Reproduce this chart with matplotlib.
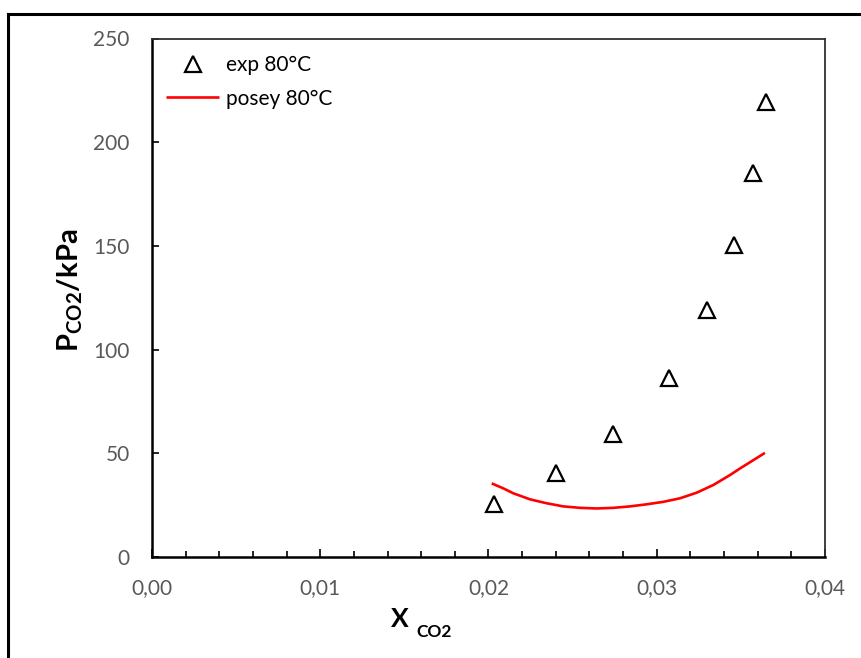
import matplotlib
matplotlib.use("Agg")
import matplotlib.pyplot as plt
from matplotlib.ticker import MultipleLocator, FuncFormatter
from matplotlib.lines import Line2D

plt.rcParams['font.family'] = ['Lato', 'DejaVu Sans']
plt.rcParams['mathtext.fontset'] = 'custom'
plt.rcParams['mathtext.rm'] = 'Lato'
plt.rcParams['mathtext.bf'] = 'Lato:bold'

# Experimental CO2 solubility at 80 °C
exp_x = [0.0203, 0.0240, 0.0274, 0.0307, 0.0330, 0.0346, 0.0357, 0.0365]
exp_p = [25.5, 40.6, 59.2, 86.2, 119.3, 150.3, 185.3, 219.3]

# Posey model prediction at 80 °C
posey_x = [0.02019, 0.02088, 0.02148, 0.02247, 0.02346, 0.02445, 0.02544, 0.02643,
           0.02742, 0.02841, 0.02940, 0.03039, 0.03138, 0.03237, 0.03336, 0.03435,
           0.03495, 0.03574, 0.03643]
posey_p = [35.5, 33.1, 30.7, 27.8, 25.9, 24.4, 23.7, 23.4,
           23.7, 24.4, 25.4, 26.6, 28.3, 31.0, 34.7, 39.5,
           42.7, 46.7, 50.2]

W, H = 861, 658
fig = plt.figure(figsize=(W / 100, H / 100), dpi=100)

# outer frame lines (top and left)
fig.add_artist(Line2D([8 / W, 1.0], [1 - 14 / H, 1 - 14 / H], transform=fig.transFigure,
                      color='black', lw=2.2))
fig.add_artist(Line2D([8 / W, 8 / W], [0.0, 1 - 14 / H], transform=fig.transFigure,
                      color='black', lw=2.2))

left, right, bottom, top = 152, 825, 557, 38.5
ax = fig.add_axes([left / W, 1 - bottom / H, (right - left) / W, (bottom - top) / H])

ax.plot(exp_x, exp_p, linestyle='none', marker='^', markersize=11,
        markerfacecolor='white', markeredgecolor='black', markeredgewidth=1.6,
        label='exp 80°C')
ax.plot(posey_x, posey_p, color='#FF0000', lw=1.9, label='posey 80°C',
        solid_joinstyle='round', solid_capstyle='butt')

ax.set_xlim(0, 0.04)
ax.set_ylim(0, 250)

ax.xaxis.set_major_locator(MultipleLocator(0.01))
ax.xaxis.set_minor_locator(MultipleLocator(0.002))
ax.yaxis.set_major_locator(MultipleLocator(50))
ax.xaxis.set_major_formatter(FuncFormatter(lambda v, p: f"{v:.2f}".replace('.', ',')))
ax.yaxis.set_major_formatter(FuncFormatter(lambda v, p: f"{v:.0f}"))

ax.tick_params(axis='x', which='major', direction='in', length=6, width=1.2,
               pad=15, labelsize=15, labelcolor='#595959', top=False)
ax.tick_params(axis='x', which='minor', direction='in', length=4.5, width=1.2, top=False)
ax.tick_params(axis='y', which='major', direction='in', length=5, width=1.2,
               pad=16, labelsize=15, labelcolor='#595959', right=False)

for s in ['left', 'bottom']:
    ax.spines[s].set_linewidth(1.8)
    ax.spines[s].set_color('black')
for s in ['top', 'right']:
    ax.spines[s].set_linewidth(1.3)
    ax.spines[s].set_color('#303030')

fig.text(70 / W, 1 - 290 / H, r'P$_{\mathregular{CO2}}$/kPa', fontsize=21, fontweight='bold',
         rotation=90, ha='center', va='center')

fig.text(400 / W, 1 - 619 / H, 'X', fontsize=19, fontweight='bold', ha='center', va='center')
fig.text(434 / W, 1 - 632 / H, 'CO2', fontsize=12.5, fontweight='bold', ha='center', va='center')

ax.legend(loc='upper left', bbox_to_anchor=(166 / W, 1 - 55 / H), bbox_transform=fig.transFigure,
          frameon=False, fontsize=15, handlelength=2.55, handletextpad=0.35,
          labelspacing=0.65, borderpad=0, borderaxespad=0)

fig.savefig('out.png', dpi=100)
